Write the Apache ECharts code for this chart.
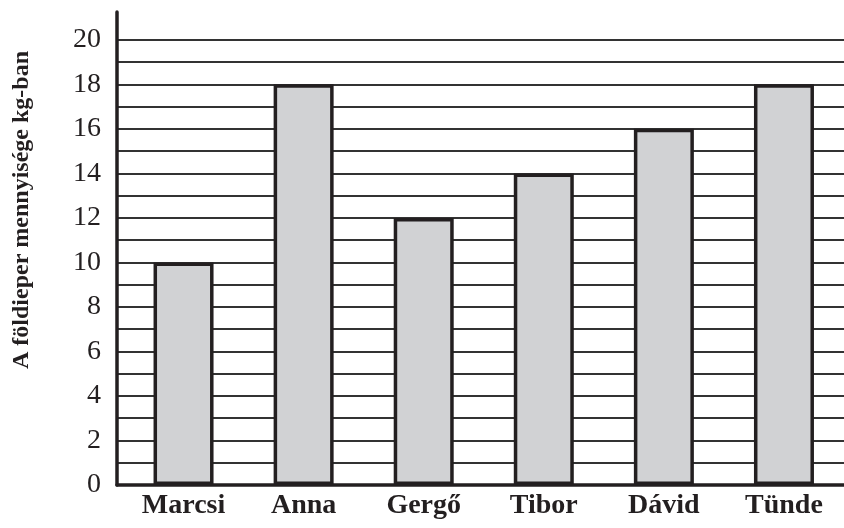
<!DOCTYPE html>
<html>
<head>
<meta charset="utf-8">
<script src="https://cdn.jsdelivr.net/npm/echarts@6/dist/echarts.min.js"></script>
<style>html,body{margin:0;padding:0;background:#fff}#c{width:844px;height:528px}</style>
</head>
<body>
<div id="c"></div>
<script>
const categories = ['Marcsi', 'Anna', 'Gergő', 'Tibor', 'Dávid', 'Tünde'];
const values = [10, 18, 12, 14, 16, 18];
const yTitle = 'A földieper mennyisége kg-ban';
const yMin = 0, yMax = 21.25, gridMax = 20, yStep = 1, labelStep = 2;

const serif = '"Liberation Serif", "DejaVu Serif", serif';
const ink = '#231f20';
const chart = echarts.init(document.getElementById('c'));
chart.setOption({
  backgroundColor: '#ffffff',
  animation: false,
  grid: [
    { left: 117, right: 0, top: 12, bottom: 43 },
    { left: 123.5, right: -5.5, top: 12, bottom: 43 },
    { left: 117, right: 0, top: 39.8, bottom: 43 }
  ],
  xAxis: [
    { gridIndex: 0, type: 'category', data: categories, boundaryGap: true, z: 5,
      axisLine: { show: true, lineStyle: { color: ink, width: 3.5 } },
      axisTick: { show: false }, axisLabel: { show: false }, splitLine: { show: false } },
    { gridIndex: 1, type: 'category', data: categories,
      axisLine: { show: false }, axisTick: { show: false },
      axisLabel: { fontFamily: serif, fontWeight: 'bold', fontSize: 28, color: ink, margin: 7 } },
    { gridIndex: 2, type: 'category', data: categories, show: false }
  ],
  yAxis: [
    { gridIndex: 0, type: 'value', min: yMin, max: yMax, interval: yStep, z: 5,
      axisLine: { show: true, lineStyle: { color: ink, width: 3.5 } },
      axisTick: { show: false },
      axisLabel: { fontFamily: serif, fontSize: 28, color: ink, margin: 16, showMaxLabel: false,
        formatter: v => (Number.isInteger(v) && v % labelStep === 0) ? String(v) : '' },
      splitLine: { show: false } },
    { gridIndex: 1, type: 'value', min: yMin, max: yMax, interval: yStep, show: false, splitLine: { show: false } },
    { gridIndex: 2, type: 'value', min: yMin, max: gridMax, interval: yStep,
      axisLine: { show: false }, axisTick: { show: false }, axisLabel: { show: false },
      splitLine: { show: true, showMinLine: false, lineStyle: { color: '#333333', width: 1.8 } } }
  ],
  graphic: [{
    type: 'text', x: 22, y: 210, rotation: Math.PI / 2,
    style: { text: yTitle, font: 'bold 24px ' + serif, fill: ink, align: 'center', verticalAlign: 'middle' }
  }],
  series: [{
    type: 'bar', xAxisIndex: 1, yAxisIndex: 1, data: values, barWidth: 60, z: 3,
    itemStyle: { color: '#d1d2d4', borderColor: ink, borderWidth: 3.5 }
  }]
});
</script>
</body>
</html>
